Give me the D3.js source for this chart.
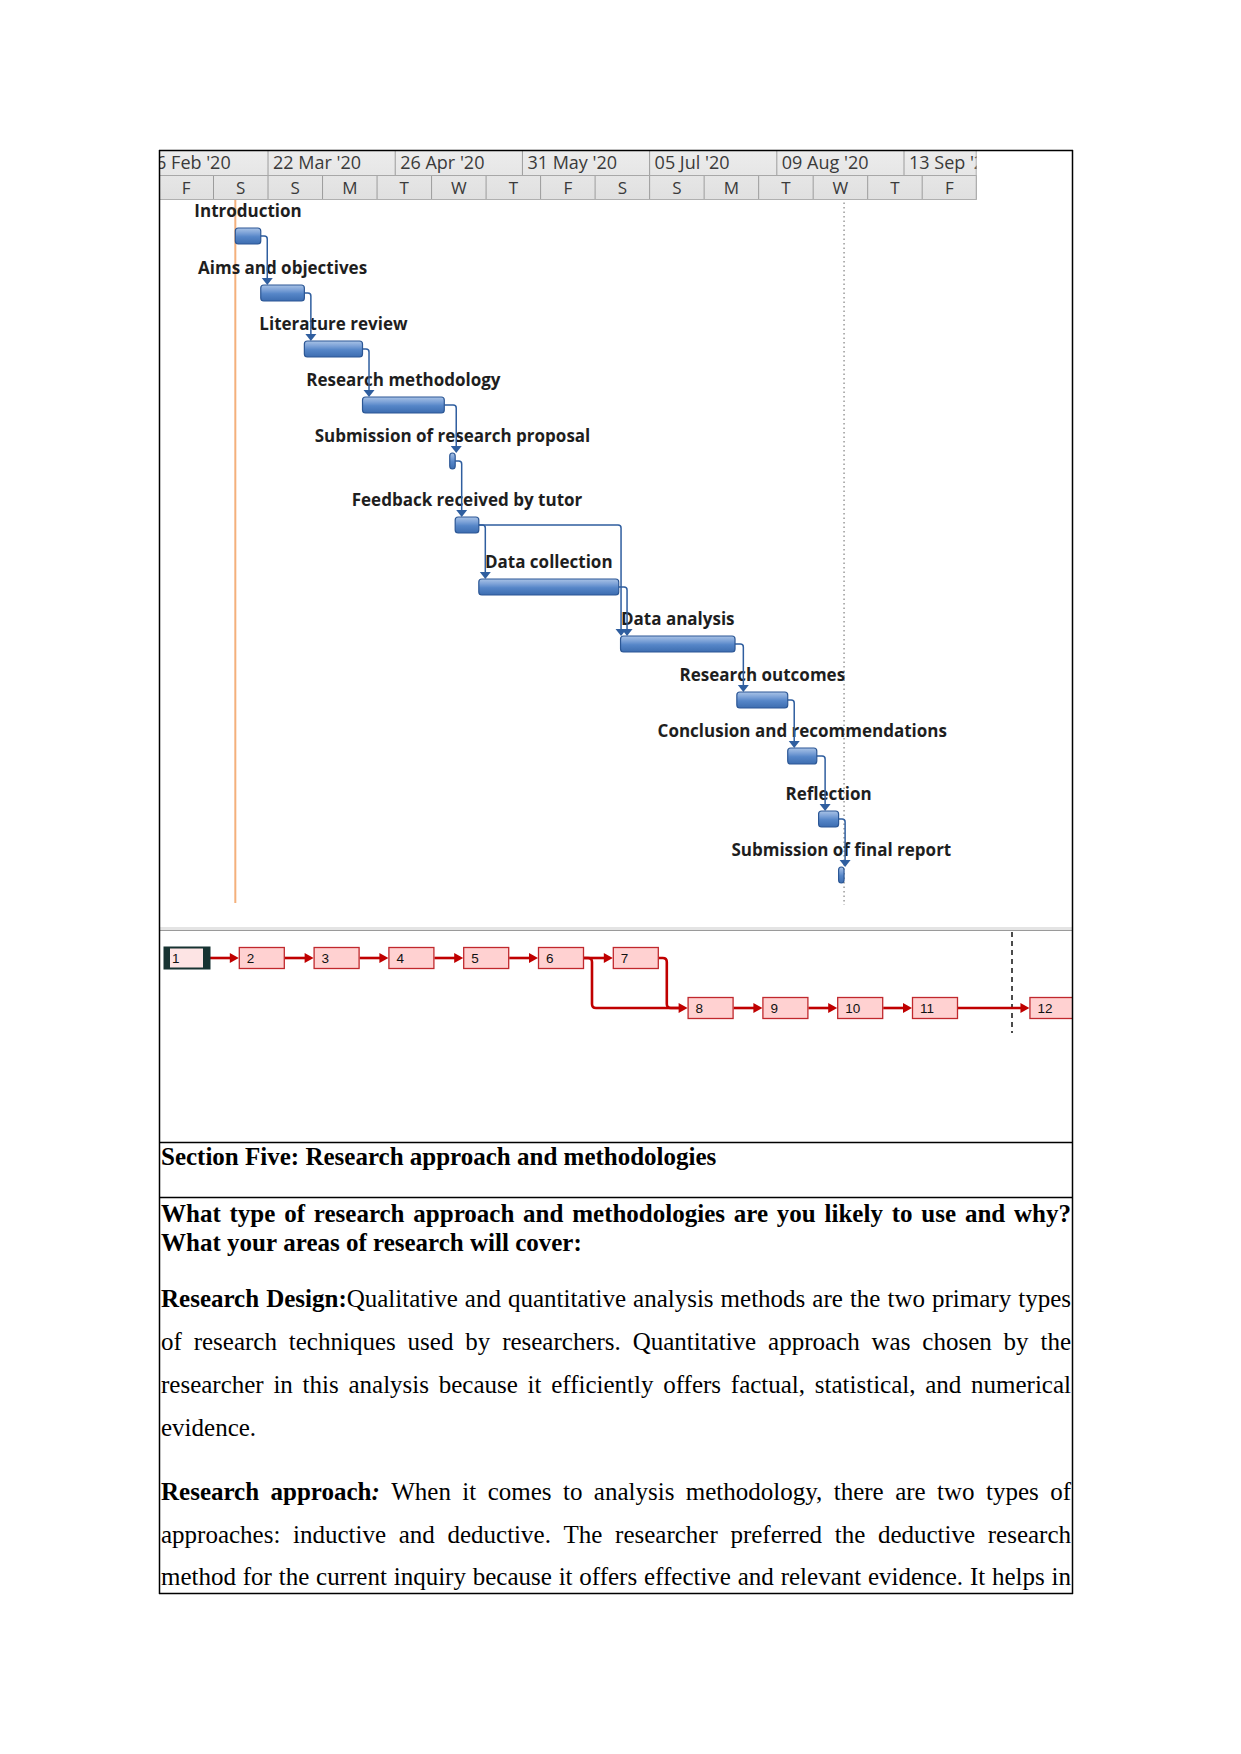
<!DOCTYPE html>
<html><head><meta charset="utf-8">
<script src="https://cdn.jsdelivr.net/npm/d3@7"></script>
<style>body{margin:0;background:#fff}svg{display:block}</style>
</head><body>
<script>
// ---------------- DATA ----------------
const taskNames = ["Introduction","Aims and objectives","Literature review","Research methodology",
  "Submission of research proposal","Feedback received by tutor","Data collection","Data analysis",
  "Research outcomes","Conclusion and recommendations","Reflection","Submission of final report"];
const taskStarts = ["2020-03-13T00","2020-03-20T00","2020-04-01T00","2020-04-17T00","2020-05-11T00","2020-05-12T12",
  "2020-05-19T00","2020-06-27T00","2020-07-29T00","2020-08-12T00","2020-08-20T12","2020-08-26T00"];
const taskEnds = ["2020-03-20T00","2020-04-01T00","2020-04-17T00","2020-05-09T12","2020-05-12T12","2020-05-19T00",
  "2020-06-26T12","2020-07-28T12","2020-08-12T00","2020-08-20T00","2020-08-26T00","2020-08-27T12"];
// height of each task row in the Gantt table (px of the original view)
const taskRowHeights = [57,56,56,56,64,62,57,56,56,63,56,56];
const taskLinks = [[0,1],[1,2],[2,3],[3,4],[4,5],[5,6],[5,7],[6,7],[7,8],[8,9],[9,10],[10,11]];
const majorTickDates = ["2020-02-16T00","2020-03-22T00","2020-04-26T00","2020-05-31T00","2020-07-05T00","2020-08-09T00","2020-09-13T00"];
const majorTickLabels = ["16 Feb '20","22 Mar '20","26 Apr '20","31 May '20","05 Jul '20","09 Aug '20","13 Sep '20"];
const minorTickDates = ["2020-02-21T00","2020-03-07T00","2020-03-22T00","2020-04-06T00","2020-04-21T00","2020-05-06T00",
  "2020-05-21T00","2020-06-05T00","2020-06-20T00","2020-07-05T00","2020-07-20T00","2020-08-04T00","2020-08-19T00",
  "2020-09-03T00","2020-09-18T00","2020-10-03T00"];
const minorTickLabels = ["F","S","S","M","T","W","T","F","S","S","M","T","W","T","F"];
const timelineStart = "2020-02-21T00", timelineEnd = "2020-10-03T00";
const projectStartDate = "2020-03-13T00";
const deadlineDate = "2020-08-27T12";
// network diagram
const nodeIds = [1,2,3,4,5,6,7,8,9,10,11,12];
const nodeCols = [0,1,2,3,4,5,6,7,8,9,10,11.57];
const nodeRows = [0,0,0,0,0,0,0,1,1,1,1,1];
const nodeLinks = [[1,2],[2,3],[3,4],[4,5],[5,6],[6,7],[6,8],[7,8],[8,9],[9,10],[10,11],[11,12]];
// document text
const sectionTitle = "Section Five: Research approach and methodologies";
const questionLines = ["What type of research approach and methodologies are you likely to use and why?",
  "What your areas of research will cover:"];
const bodyLines = [
  [[{t:"Research Design:",b:1},{t:"Qualitative and quantitative analysis methods are the two primary types"}],true],
  [[{t:"of research techniques used by researchers. Quantitative approach was chosen by the"}],true],
  [[{t:"researcher in this analysis because it efficiently offers factual, statistical, and numerical"}],true],
  [[{t:"evidence."}],false],
  [[{t:"Research approach",b:1},{t:":",b:1,i:1},{t:" When it comes to analysis methodology, there are two types of"}],true],
  [[{t:"approaches: inductive and deductive. The researcher preferred the deductive research"}],true],
  [[{t:"method for the current inquiry because it offers effective and relevant evidence. It helps in"}],true]
];
const bodyBaselines = [1307,1350,1393,1436,1500,1543,1585];

// ---------------- SETUP ----------------
const parse = d3.utcParse("%Y-%m-%dT%H");
const svg = d3.select("body").append("svg").attr("width",1241).attr("height",1754);
const defs = svg.append("defs");

const x = d3.scaleUtc().domain([parse(timelineStart), parse(timelineEnd)]).range([159, 976.7]);
const HT = 151, HM = 175.5, HB = 199.5;

const grad = defs.append("linearGradient").attr("id","barGrad").attr("x1",0).attr("y1",0).attr("x2",0).attr("y2",1);
[["0%","#a9c3e6"],["30%","#7ea3d8"],["55%","#5686c8"],["100%","#3d6db0"]].forEach(s=>grad.append("stop").attr("offset",s[0]).attr("stop-color",s[1]));
const hgrad = defs.append("linearGradient").attr("id","hdrGrad").attr("x1",0).attr("y1",0).attr("x2",0).attr("y2",1);
[["0%","#ececec"],["100%","#e0e0e0"]].forEach(s=>hgrad.append("stop").attr("offset",s[0]).attr("stop-color",s[1]));

function clip(id,x0,y0,w,h){defs.append("clipPath").attr("id",id).append("rect").attr("x",x0).attr("y",y0).attr("width",w).attr("height",h);}
clip("hdrClip",160,HT,817,HB-HT+0.5);
clip("ganttClip",160,HB+0.5,912,927-HB);
clip("netClip",160,931,912,211);
clip("txtClip",160,1142,912,451);

// ---------------- GANTT HEADER ----------------
const hdr = svg.append("g").attr("clip-path","url(#hdrClip)");
hdr.append("rect").attr("x",160).attr("y",HT).attr("width",x.range()[1]-160).attr("height",HB-HT).attr("fill","url(#hdrGrad)");
const majors = majorTickDates.map((d,i)=>({x:x(parse(d)),label:majorTickLabels[i]}));
hdr.selectAll("line.maj").data(majors).join("line")
  .attr("x1",d=>d.x).attr("x2",d=>d.x).attr("y1",HT).attr("y2",HM).attr("stroke","#9c9c9c");
hdr.selectAll("text.maj").data(majors).join("text")
  .attr("x",d=>d.x+5).attr("y",169).text(d=>d.label)
  .attr("font-family","Open Sans").attr("font-size",18).attr("fill","#3a3a3a");
const minors = minorTickDates.map(d=>x(parse(d)));
hdr.selectAll("line.min").data(minors).join("line")
  .attr("x1",d=>d).attr("x2",d=>d).attr("y1",HM).attr("y2",HB).attr("stroke","#9c9c9c");
hdr.selectAll("text.min").data(minorTickLabels).join("text")
  .attr("x",(d,i)=>(minors[i]+minors[i+1])/2).attr("y",194).attr("text-anchor","middle").text(d=>d)
  .attr("font-family","Open Sans").attr("font-size",17).attr("fill","#3a3a3a");
hdr.append("line").attr("x1",160).attr("x2",x.range()[1]).attr("y1",HM).attr("y2",HM).attr("stroke","#a8a8a8");
hdr.append("line").attr("x1",160).attr("x2",x.range()[1]).attr("y1",HB).attr("y2",HB).attr("stroke","#b0b0b0");
hdr.append("line").attr("x1",x.range()[1]-0.5).attr("x2",x.range()[1]-0.5).attr("y1",HT).attr("y2",HB).attr("stroke","#b0b0b0");

// ---------------- GANTT BODY ----------------
const gantt = svg.append("g").attr("clip-path","url(#ganttClip)");
const barH = 16;
const tops = [228];
taskRowHeights.slice(0,-1).forEach((h,i)=>tops.push(tops[i]+h));
const tasks = taskNames.map((n,i)=>({name:n,x0:x(parse(taskStarts[i])),x1:x(parse(taskEnds[i])),top:tops[i]}));

// project start line and deadline
const psx = x(parse(projectStartDate));
gantt.append("line").attr("x1",psx).attr("x2",psx).attr("y1",HB).attr("y2",903).attr("stroke","#f4b07c").attr("stroke-width",2);
const dlx = x(parse(deadlineDate));
gantt.append("line").attr("x1",dlx).attr("x2",dlx).attr("y1",HB+3).attr("y2",905).attr("stroke","#8a8a8a").attr("stroke-width",1.3).attr("stroke-dasharray","1.5,3");

// labels
gantt.selectAll("text.tl").data(tasks).join("text")
  .attr("x",d=>(d.x0+d.x1)/2).attr("y",d=>d.top-11).attr("text-anchor","middle").text(d=>d.name)
  .attr("font-family","Open Sans").attr("font-weight","bold").attr("font-size",17).attr("fill","#1e1e1e");

// links
const linkColor = "#2f5e9f";
const incoming = {};
taskLinks.forEach(([a,b])=>{incoming[b]=(incoming[b]||0)+1;});
const seen = {};
taskLinks.forEach(([a,b])=>{
  const A = tasks[a], B = tasks[b];
  seen[b]=(seen[b]||0)+1;
  const vx = (incoming[b]>1 && seen[b]===1) ? B.x0+0.5 : B.x0+6.5;
  const my = A.top+barH/2, r=3, tipY = B.top;
  const p = d3.path();
  p.moveTo(A.x1, my); p.lineTo(vx-r, my); p.quadraticCurveTo(vx,my,vx,my+r); p.lineTo(vx, tipY-6);
  gantt.append("path").attr("d",p.toString()).attr("fill","none").attr("stroke",linkColor).attr("stroke-width",1.5);
  gantt.append("path").attr("d",`M${vx-5.5},${tipY-7}L${vx+5.5},${tipY-7}L${vx},${tipY}Z`).attr("fill",linkColor);
});

// bars
gantt.selectAll("rect.bar").data(tasks).join("rect")
  .attr("x",d=>d.x0).attr("y",d=>d.top).attr("width",d=>Math.max(4,d.x1-d.x0)).attr("height",barH)
  .attr("rx",3).attr("fill","url(#barGrad)").attr("stroke","#2c5795").attr("stroke-width",1.2);

// separator between gantt and network
svg.append("rect").attr("x",160).attr("y",927).attr("width",912).attr("height",3).attr("fill","#e4e4e4");
svg.append("line").attr("x1",160).attr("x2",1072).attr("y1",930.5).attr("y2",930.5).attr("stroke","#9a9a9a").attr("stroke-width",1.2);

// ---------------- NETWORK DIAGRAM ----------------
const net = svg.append("g").attr("clip-path","url(#netClip)");
const nx = d3.scaleLinear().domain([0,1]).range([164,238.8]);
const ny = d3.scaleLinear().domain([0,1]).range([947,997]);
const bw = 46, bh = 22;
const nodes = nodeIds.map((id,i)=>({id, x:nx(nodeCols[i]), y:ny(nodeRows[i])}));
const byId = Object.fromEntries(nodes.map(n=>[n.id,n]));
const red = "#c00000";
// page-break dashed line
net.append("line").attr("x1",1012).attr("x2",1012).attr("y1",932).attr("y2",1033).attr("stroke","#111").attr("stroke-width",1.5).attr("stroke-dasharray","5,4");
const arrowTargets = new Set();
nodeLinks.forEach(([a,b])=>{
  const A = byId[a], B = byId[b];
  const ay = A.y+bh/2, by = B.y+bh/2;
  const p = d3.path();
  if (A.y===B.y){ p.moveTo(A.x+bw, ay); p.lineTo(B.x-7, by); }
  else {
    const vx = A.x+bw+8, r=4;
    p.moveTo(A.x+bw, ay); p.lineTo(vx-r, ay); p.quadraticCurveTo(vx,ay,vx,ay+r);
    p.lineTo(vx, by-r); p.quadraticCurveTo(vx,by,vx+r,by); p.lineTo(B.x-7, by);
  }
  net.append("path").attr("d",p.toString()).attr("fill","none").attr("stroke",red).attr("stroke-width",2.6);
  if(!arrowTargets.has(b)){ arrowTargets.add(b);
    net.append("path").attr("d",`M${B.x-9},${by-5}L${B.x},${by}L${B.x-9},${by+5}Z`).attr("fill",red);
  }
});
const ng = net.selectAll("g.node").data(nodes).join("g").attr("transform",d=>`translate(${d.x},${d.y})`);
ng.append("rect").attr("x",0.5).attr("y",0.5).attr("width",bw-1).attr("height",bh-1)
  .attr("fill",d=>d.id===1?"#fde4e4":"#ffd1d1").attr("stroke",d=>d.id===1?"#173332":"#c0282d").attr("stroke-width",d=>d.id===1?2:1.3);
ng.filter(d=>d.id===1).each(function(){
  const s=d3.select(this);
  s.append("rect").attr("x",0).attr("y",0).attr("width",6).attr("height",bh).attr("fill","#173332");
  s.append("rect").attr("x",bw-7).attr("y",0).attr("width",7).attr("height",bh).attr("fill","#173332");
});
ng.append("text").attr("x",8).attr("y",bh/2+5).text(d=>d.id)
  .attr("font-family","Liberation Sans Narrow, Liberation Sans").attr("font-size",13.5).attr("fill","#111");

// ---------------- DOCUMENT TEXT ----------------
const txt = svg.append("g").attr("clip-path","url(#txtClip)");
const serif = "Liberation Serif";
function drawLine(runs, x0, x1, y, justify){
  const words=[]; let cur=null;
  runs.forEach(r=>{
    r.t.split(" ").forEach((p,i)=>{
      if(i>0) cur=null;
      if(p==="") return;
      if(!cur){cur=[];words.push(cur);}
      cur.push({t:p,b:r.b,i:r.i});
    });
  });
  const els = words.map(w=>{
    const t = txt.append("text").attr("y",y).attr("font-family",serif).attr("font-size",25).attr("fill","#000");
    w.forEach(s=>t.append("tspan").text(s.t).attr("font-weight",s.b?"bold":null).attr("font-style",s.i?"italic":null));
    return t;
  });
  const widths = els.map(e=>e.node().getComputedTextLength());
  const total = d3.sum(widths);
  const gap = justify && words.length>1 ? (x1-x0-total)/(words.length-1) : 6.25;
  let cx = x0;
  els.forEach((e,i)=>{e.attr("x",cx); cx += widths[i]+gap;});
}
drawLine([{t:sectionTitle,b:1}],161,1071,1165,false);
drawLine([{t:questionLines[0],b:1}],161,1071,1222,true);
drawLine([{t:questionLines[1],b:1}],161,1071,1250.5,false);
bodyLines.forEach((l,i)=>drawLine(l[0],161,1071,bodyBaselines[i],l[1]));

// ---------------- FRAME ----------------
const frame = svg.append("g").attr("stroke","#000").attr("stroke-width",1.5);
frame.append("line").attr("x1",159.5).attr("x2",159.5).attr("y1",150).attr("y2",1594);
frame.append("line").attr("x1",1072.5).attr("x2",1072.5).attr("y1",150).attr("y2",1594);
frame.append("line").attr("x1",159).attr("x2",1073).attr("y1",150.5).attr("y2",150.5);
frame.append("line").attr("x1",159).attr("x2",1073).attr("y1",1593.5).attr("y2",1593.5);
frame.append("line").attr("x1",159).attr("x2",1073).attr("y1",1142.5).attr("y2",1142.5);
frame.append("line").attr("x1",159).attr("x2",1073).attr("y1",1197.5).attr("y2",1197.5);
</script>
</body></html>
